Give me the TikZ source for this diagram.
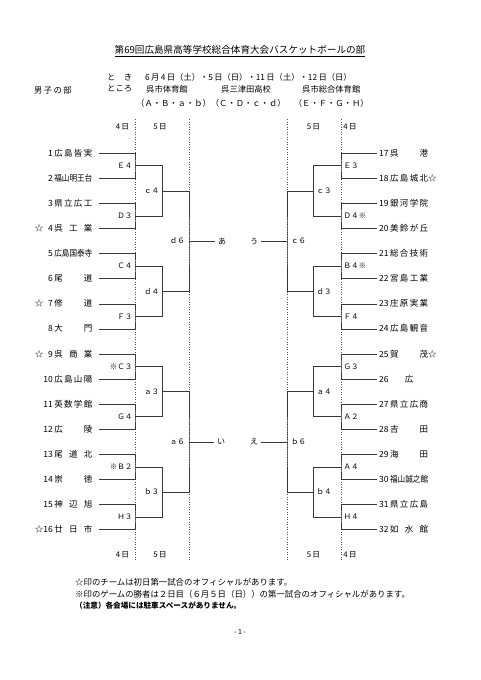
\documentclass[tikz,border=0pt]{standalone}
\usepackage{fontspec}
\setmainfont{Noto Sans CJK JP}
\usepackage{graphicx}
\newcommand\tb[1]{\makebox[38pt][s]{#1}}
\newcommand\tq[1]{\resizebox{38pt}{\height}{#1}}
\newcommand\tc[1]{\makebox[38pt][c]{#1}}
\tikzset{
  br/.style={line width=0.75pt, draw=black!78},
  dotln/.style={line width=0.8pt, draw=black!70, dash pattern=on 0.9pt off 1.6pt},
  team/.style={inner sep=0pt, font=\fontsize{8.5}{10}\selectfont, text height=7.2pt, text depth=1.3pt},
  lbl/.style={inner sep=0pt, font=\fontsize{7.5}{9}\selectfont, text height=6.4pt, text depth=1.1pt},
  day/.style={inner sep=0pt, font=\fontsize{7.8}{9}\selectfont},
  hdr/.style={inner sep=0pt, anchor=west, font=\fontsize{8.3}{10}\selectfont},
  kana/.style={inner sep=3pt, font=\fontsize{8}{9}\selectfont},
  note/.style={inner sep=0pt, anchor=west, font=\fontsize{8.4}{10}\selectfont},
  lft/.style={shorten <=6.8pt, shorten >=6.8pt},
  rgt/.style={shorten <=2.3pt, shorten >=2.3pt}
}
\begin{document}
\begin{tikzpicture}[x=1pt,y=-1pt]
\useasboundingbox (0,0) rectangle (481,680);
\fill[white] (0,0) rectangle (481,680);

% ---------- header ----------
\node[inner sep=0pt, font=\fontsize{9.6}{11}\selectfont] (title) at (240,51) {\underline{第69回広島県高等学校総合体育大会バスケットボールの部}};
\node[hdr] (toki) at (107,77) {と　き};
\node[hdr] (date) at (145,77) {6\,月\,4\,日（土）・5\,日（日）・11\,日（土）・12\,日（日）};
\node[hdr] (boys) at (34,90) {男\,子\,の\,部};
\node[hdr] (tokoro) at (107,89) {ところ};
\node[hdr] (v1) at (146,89) {呉市体育館};
\node[hdr] (v2) at (221,89) {呉三津田高校};
\node[hdr] (v3) at (302,89) {呉市総合体育館};
\node[hdr] (courts) at (136,103) {（Ａ・Ｂ・ａ・ｂ）（Ｃ・Ｄ・ｃ・ｄ）　（Ｅ・Ｆ・Ｇ・Ｈ）};

% ---------- day labels and dotted day lines ----------
\node[day] (d4tl) at (122.5,127) {4\,日};
\node[day] (d5tl) at (160,127) {5\,日};
\node[day] (d5tr) at (313.5,127) {5\,日};
\node[day] (d4tr) at (350,127) {4\,日};
\node[day] (d4bl) at (122.5,555) {4\,日};
\node[day] (d5bl) at (160,555) {5\,日};
\node[day] (d5br) at (313.5,555) {5\,日};
\node[day] (d4br) at (350,555) {4\,日};
\coordinate (dA1) at (135,119); \coordinate (dA2) at (135,560);
\coordinate (dB1) at (189,119); \coordinate (dB2) at (189,560);
\coordinate (dC1) at (287,119); \coordinate (dC2) at (287,560);
\coordinate (dD1) at (341,119); \coordinate (dD2) at (341,560);
\draw[dotln] (dA1) -- (dA2);
\draw[dotln] (dB1) -- (dB2);
\draw[dotln] (dC1) -- (dC2);
\draw[dotln] (dD1) -- (dD2);

% ---------- left teams ----------
\node[team, anchor=east] (t1)  at (92.5,153.3) {1\hspace{1.5pt}\tb{広\hfill 島\hfill 皆\hfill 実}};
\node[team, anchor=east] (t2)  at (92.5,178.4) {2\hspace{1.5pt}\tq{福山明王台}};
\node[team, anchor=east] (t3)  at (92.5,203.5) {3\hspace{1.5pt}\tb{県\hfill 立\hfill 広\hfill 工}};
\node[team, anchor=east] (t4)  at (92.5,228.6) {4\hspace{1.5pt}\tb{呉\hfill 工\hfill 業}};
\node[team, anchor=east] (t5)  at (92.5,253.7) {5\hspace{1.5pt}\tq{広島国泰寺}};
\node[team, anchor=east] (t6)  at (92.5,278.8) {6\hspace{1.5pt}\tb{尾\hfill 道}};
\node[team, anchor=east] (t7)  at (92.5,303.9) {7\hspace{1.5pt}\tb{修\hfill 道}};
\node[team, anchor=east] (t8)  at (92.5,329.0) {8\hspace{1.5pt}\tb{大\hfill 門}};
\node[team, anchor=east] (t9)  at (92.5,354.1) {9\hspace{1.5pt}\tb{呉\hfill 商\hfill 業}};
\node[team, anchor=east] (t10) at (92.5,379.2) {10\hspace{1.5pt}\tb{広\hfill 島\hfill 山\hfill 陽}};
\node[team, anchor=east] (t11) at (92.5,404.3) {11\hspace{1.5pt}\tb{英\hfill 数\hfill 学\hfill 館}};
\node[team, anchor=east] (t12) at (92.5,429.4) {12\hspace{1.5pt}\tb{広\hfill 陵}};
\node[team, anchor=east] (t13) at (92.5,454.5) {13\hspace{1.5pt}\tb{尾\hfill 道\hfill 北}};
\node[team, anchor=east] (t14) at (92.5,479.6) {14\hspace{1.5pt}\tb{崇\hfill 徳}};
\node[team, anchor=east] (t15) at (92.5,504.7) {15\hspace{1.5pt}\tb{神\hfill 辺\hfill 旭}};
\node[team, anchor=east] (t16) at (92.5,529.8) {16\hspace{1.5pt}\tb{廿\hfill 日\hfill 市}};
\node[team] (s4)  at (39,228.6) {☆};
\node[team] (s7)  at (39,303.9) {☆};
\node[team] (s9)  at (39,354.1) {☆};
\node[team] (s16) at (39,529.8) {☆};

% ---------- right teams ----------
\node[team, anchor=west] (t17) at (379,153.3) {17\hspace{1.5pt}\tb{呉\hfill 港}};
\node[team, anchor=west] (t18) at (379,178.4) {18\hspace{1.5pt}\tb{広\hfill 島\hfill 城\hfill 北}☆};
\node[team, anchor=west] (t19) at (379,203.5) {19\hspace{1.5pt}\tb{銀\hfill 河\hfill 学\hfill 院}};
\node[team, anchor=west] (t20) at (379,228.6) {20\hspace{1.5pt}\tb{美\hfill 鈴\hfill が\hfill 丘}};
\node[team, anchor=west] (t21) at (379,253.7) {21\hspace{1.5pt}\tb{総\hfill 合\hfill 技\hfill 術}};
\node[team, anchor=west] (t22) at (379,278.8) {22\hspace{1.5pt}\tb{宮\hfill 島\hfill 工\hfill 業}};
\node[team, anchor=west] (t23) at (379,303.9) {23\hspace{1.5pt}\tb{庄\hfill 原\hfill 実\hfill 業}};
\node[team, anchor=west] (t24) at (379,329.0) {24\hspace{1.5pt}\tb{広\hfill 島\hfill 観\hfill 音}};
\node[team, anchor=west] (t25) at (379,354.1) {25\hspace{1.5pt}\tb{賀\hfill 茂}☆};
\node[team, anchor=west] (t26) at (379,379.2) {26\hspace{1.5pt}\tc{広}};
\node[team, anchor=west] (t27) at (379,404.3) {27\hspace{1.5pt}\tb{県\hfill 立\hfill 広\hfill 商}};
\node[team, anchor=west] (t28) at (379,429.4) {28\hspace{1.5pt}\tb{吉\hfill 田}};
\node[team, anchor=west] (t29) at (379,454.5) {29\hspace{1.5pt}\tb{海\hfill 田}};
\node[team, anchor=west] (t30) at (379,479.6) {30\hspace{1.5pt}\tq{福山誠之館}};
\node[team, anchor=west] (t31) at (379,504.7) {31\hspace{1.5pt}\tb{県\hfill 立\hfill 広\hfill 島}};
\node[team, anchor=west] (t32) at (379,529.8) {32\hspace{1.5pt}\tb{如\hfill 水\hfill 館}};

% ---------- match points ----------
\coordinate (mE4) at (135,165.85); \coordinate (mD3) at (135,216.05);
\coordinate (mC4) at (135,266.25); \coordinate (mF3) at (135,316.45);
\coordinate (mC3) at (135,366.65); \coordinate (mG4) at (135,416.85);
\coordinate (mB2) at (135,467.05); \coordinate (mH3) at (135,517.25);
\coordinate (mc4) at (162.3,190.95); \coordinate (md4) at (162.3,291.35);
\coordinate (ma3) at (162.3,391.75); \coordinate (mb3) at (162.3,492.15);
\coordinate (md6) at (189,241.15); \coordinate (ma6) at (189,441.95);

\coordinate (mE3) at (341,165.85); \coordinate (mD4) at (341,216.05);
\coordinate (mB4) at (341,266.25); \coordinate (mF4) at (341,316.45);
\coordinate (mG3) at (341,366.65); \coordinate (mA2) at (341,416.85);
\coordinate (mA4) at (341,467.05); \coordinate (mH4) at (341,517.25);
\coordinate (mc3) at (313.3,190.95); \coordinate (md3) at (313.3,291.35);
\coordinate (ma4) at (313.3,391.75); \coordinate (mb4) at (313.3,492.15);
\coordinate (mc6) at (287,241.15); \coordinate (mb6) at (287,441.95);

% ---------- left bracket ----------
\draw[br,lft] (t1.east) -| (mE4) |- (t2.east);
\draw[br,lft] (t3.east) -| (mD3) |- (t4.east);
\draw[br,lft] (t5.east) -| (mC4) |- (t6.east);
\draw[br,lft] (t7.east) -| (mF3) |- (t8.east);
\draw[br,lft] (t9.east) -| (mC3) |- (t10.east);
\draw[br,lft] (t11.east) -| (mG4) |- (t12.east);
\draw[br,lft] (t13.east) -| (mB2) |- (t14.east);
\draw[br,lft] (t15.east) -| (mH3) |- (t16.east);
\draw[br] (mE4) -| (mc4) |- (mD3);
\draw[br] (mC4) -| (md4) |- (mF3);
\draw[br] (mC3) -| (ma3) |- (mG4);
\draw[br] (mB2) -| (mb3) |- (mH3);
\draw[br] (mc4) -| (md6) |- (md4);
\draw[br] (ma3) -| (ma6) |- (mb3);

% ---------- right bracket ----------
\draw[br,rgt] (t17.west) -| (mE3) |- (t18.west);
\draw[br,rgt] (t19.west) -| (mD4) |- (t20.west);
\draw[br,rgt] (t21.west) -| (mB4) |- (t22.west);
\draw[br,rgt] (t23.west) -| (mF4) |- (t24.west);
\draw[br,rgt] (t25.west) -| (mG3) |- (t26.west);
\draw[br,rgt] (t27.west) -| (mA2) |- (t28.west);
\draw[br,rgt] (t29.west) -| (mA4) |- (t30.west);
\draw[br,rgt] (t31.west) -| (mH4) |- (t32.west);
\draw[br] (mE3) -| (mc3) |- (mD4);
\draw[br] (mB4) -| (md3) |- (mF4);
\draw[br] (mG3) -| (ma4) |- (mA2);
\draw[br] (mA4) -| (mb4) |- (mH4);
\draw[br] (mc3) -| (mc6) |- (md3);
\draw[br] (ma4) -| (mb6) |- (mb4);

% ---------- finals ----------
\node[kana] (ka) at (222,241.15) {あ};
\node[kana] (ku) at (254,241.15) {う};
\node[kana] (ki) at (221,441.95) {い};
\node[kana] (ke) at (254,441.95) {え};
\draw[br] (md6) -- (ka.west);
\draw[br] (mc6) -- (ku.east);
\draw[br] (ma6) -- (ki.west);
\draw[br] (mb6) -- (ke.east);

% ---------- match labels ----------
\node[lbl, anchor=east] (lE4) at ([xshift=-2.5pt]mE4) {Ｅ４};
\node[lbl, anchor=east] (lD3) at ([xshift=-2.5pt]mD3) {Ｄ３};
\node[lbl, anchor=east] (lC4) at ([xshift=-2.5pt]mC4) {Ｃ４};
\node[lbl, anchor=east] (lF3) at ([xshift=-2.5pt]mF3) {Ｆ３};
\node[lbl, anchor=east] (lC3) at ([xshift=-2.5pt]mC3) {※Ｃ３};
\node[lbl, anchor=east] (lG4) at ([xshift=-2.5pt]mG4) {Ｇ４};
\node[lbl, anchor=east] (lB2) at ([xshift=-2.5pt]mB2) {※Ｂ２};
\node[lbl, anchor=east] (lH3) at ([xshift=-2.5pt]mH3) {Ｈ３};
\node[lbl, anchor=east] (lc4) at ([xshift=-3pt]mc4) {ｃ４};
\node[lbl, anchor=east] (ld4) at ([xshift=-3pt]md4) {ｄ４};
\node[lbl, anchor=east] (la3) at ([xshift=-3pt]ma3) {ａ３};
\node[lbl, anchor=east] (lb3) at ([xshift=-3pt]mb3) {ｂ３};
\node[lbl, anchor=east] (ld6) at ([xshift=-4pt]md6) {ｄ６};
\node[lbl, anchor=east] (la6) at ([xshift=-4pt]ma6) {ａ６};

\node[lbl, anchor=west] (lE3) at ([xshift=2.5pt]mE3) {Ｅ３};
\node[lbl, anchor=west] (lD4) at ([xshift=2.5pt]mD4) {Ｄ４※};
\node[lbl, anchor=west] (lB4) at ([xshift=2.5pt]mB4) {Ｂ４※};
\node[lbl, anchor=west] (lF4) at ([xshift=2.5pt]mF4) {Ｆ４};
\node[lbl, anchor=west] (lG3) at ([xshift=2.5pt]mG3) {Ｇ３};
\node[lbl, anchor=west] (lA2) at ([xshift=2.5pt]mA2) {Ａ２};
\node[lbl, anchor=west] (lA4) at ([xshift=2.5pt]mA4) {Ａ４};
\node[lbl, anchor=west] (lH4) at ([xshift=2.5pt]mH4) {Ｈ４};
\node[lbl, anchor=west] (lc3) at ([xshift=3pt]mc3) {ｃ３};
\node[lbl, anchor=west] (ld3) at ([xshift=3pt]md3) {ｄ３};
\node[lbl, anchor=west] (la4) at ([xshift=3pt]ma4) {ａ４};
\node[lbl, anchor=west] (lb4) at ([xshift=3pt]mb4) {ｂ４};
\node[lbl, anchor=west] (lc6) at ([xshift=4pt]mc6) {ｃ６};
\node[lbl, anchor=west] (lb6) at ([xshift=4pt]mb6) {ｂ６};

% ---------- footer ----------
\node[note] (n1) at (75,582) {☆印のチームは初日第一試合のオフィシャルがあります。};
\node[note] (n2) at (75,594) {※印のゲームの勝者は２日目（６月５日（日））の第一試合のオフィシャルがあります。};
\node[note, font=\fontsize{7.6}{9}\selectfont\bfseries] (n3) at (75,606) {（注意）各会場には駐車スペースがありません。};
\node[inner sep=0pt, font=\fontsize{7}{8}\selectfont] (pg) at (240,632) {- 1 -};
\end{tikzpicture}
\end{document}
